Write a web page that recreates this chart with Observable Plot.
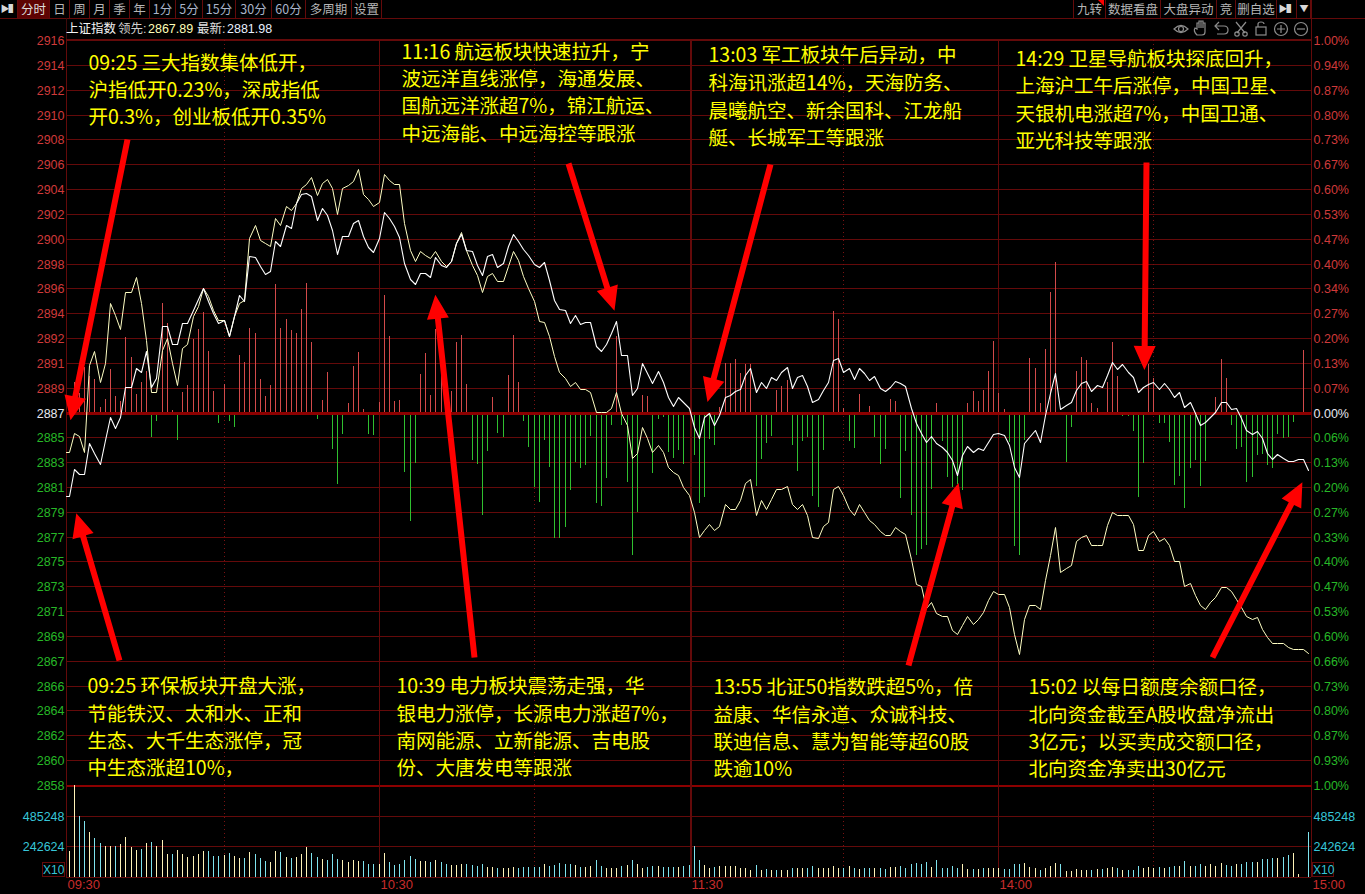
<!DOCTYPE html>
<html lang="zh-CN">
<head>
<meta charset="utf-8">
<title>上证指数 分时</title>
<script src="https://cdn.jsdelivr.net/npm/d3@7"></script>
<script src="https://cdn.jsdelivr.net/npm/@observablehq/plot@0.6"></script>
<style>
html,body{margin:0;padding:0;background:#000;}
#stage{position:relative;width:1365px;height:894px;overflow:hidden;background:#000;font-family:"Liberation Sans",Arial,sans-serif;}
#stage>svg,#stage>.layer{position:absolute;left:0;top:0;}
.btn{position:absolute;top:0;height:18px;text-align:center;color:#b5b5b5;font:12.5px/18px "Noto Sans CJK SC",sans-serif;box-sizing:border-box;border-right:1px solid #640a0a;white-space:nowrap;}
.btn.num{color:#a9b4c8;}
.btn.on{background:#5e0303;color:#ddd;}
.btn.ico{font-size:9px;color:#d8d8d8;letter-spacing:-1px;}
.hd{position:absolute;top:21px;font:12.5px/16px "Liberation Sans","Noto Sans CJK SC",sans-serif;white-space:nowrap;}
.ln{position:absolute;background:#640a0a;}
.x10{position:absolute;top:862px;height:15px;line-height:15px;border:1px solid #640a0a;box-sizing:border-box;color:#37c6d8;font-size:12px;text-align:center;}
</style>
</head>
<body>
<div id="stage"></div>
<script>
// ---- data ----
const indexLine = [2880.49,2882.64,2882.25,2882.18,2884.65,2883.81,2882.98,2884.85,2886.67,2885.76,2886.67,2888.96,2888.96,2890.45,2890.19,2891.82,2889.02,2889.67,2893.70,2893.75,2892.34,2892.34,2893.96,2893.96,2895.00,2895.83,2896.69,2895.65,2894.74,2893.96,2894.22,2892.99,2894.48,2896.17,2895.65,2899.21,2899.10,2898.43,2897.80,2897.99,2900.38,2899.94,2901.57,2901.37,2903.32,2904.02,2904.10,2903.84,2902.02,2902.93,2902.41,2901.24,2899.34,2900.72,2900.72,2901.76,2902.02,2900.72,2899.88,2899.49,2900.59,2902.61,2902.15,2901.50,2900.66,2898.64,2897.41,2897.00,2897.86,2897.86,2897.54,2899.10,2898.51,2898.32,2898.77,2900.20,2900.92,2899.68,2899.55,2898.51,2897.73,2899.16,2899.34,2898.30,2898.64,2899.94,2900.92,2900.38,2899.73,2899.29,2898.58,2898.32,2898.71,2897.34,2895.78,2895.05,2895.00,2893.96,2894.61,2893.90,2894.03,2894.03,2892.14,2891.75,2892.34,2893.18,2894.11,2891.49,2891.49,2888.37,2888.89,2890.84,2890.06,2889.28,2890.21,2889.41,2888.24,2887.53,2888.24,2887.85,2887.33,2885.89,2884.98,2886.67,2886.93,2886.02,2886.80,2888.18,2888.37,2888.70,2888.83,2889.93,2890.45,2888.63,2889.35,2888.89,2889.74,2889.54,2890.19,2890.58,2888.89,2889.80,2889.93,2889.09,2887.85,2888.03,2888.76,2889.41,2891.10,2891.28,2890.19,2890.45,2889.59,2890.45,2890.06,2889.54,2889.87,2888.89,2888.68,2889.02,2889.46,2889.28,2889.07,2887.33,2886.15,2885.37,2884.72,2885.19,2884.59,2884.28,2883.94,2883.29,2882.12,2883.68,2884.39,2883.89,2884.20,2884.07,2884.72,2885.32,2885.37,2885.24,2884.46,2882.77,2881.99,2884.59,2885.11,2885.63,2884.72,2886.80,2888.50,2890.06,2887.25,2887.59,2887.85,2888.76,2889.28,2889.46,2888.68,2889.15,2889.02,2889.93,2890.97,2890.37,2890.76,2890.19,2889.80,2888.57,2889.02,2889.22,2889.41,2888.83,2889.33,2888.81,2888.24,2888.63,2887.40,2887.85,2886.93,2886.02,2886.28,2886.67,2887.07,2887.85,2887.79,2887.25,2887.33,2886.54,2885.63,2885.30,2885.58,2885.04,2883.81,2883.35,2883.74,2883.48,2883.24,2883.24,2883.35,2883.35,2882.51];
const leadLine = [2883.89,2885.37,2885.17,2883.89,2890.71,2891.75,2889.41,2890.84,2895.52,2894.61,2893.49,2896.37,2896.37,2897.54,2895.52,2892.66,2888.63,2888.63,2891.88,2892.79,2890.84,2889.15,2892.01,2892.34,2894.48,2895.26,2896.69,2896.04,2895.00,2894.22,2894.22,2892.92,2894.48,2895.52,2895.78,2900.59,2901.57,2900.46,2900.20,2899.94,2902.15,2901.63,2903.06,2902.80,2903.32,2904.49,2904.82,2905.34,2903.97,2904.88,2905.14,2904.49,2902.46,2904.49,2904.75,2905.06,2905.92,2904.04,2903.63,2903.11,2903.39,2905.60,2905.08,2904.80,2904.80,2901.76,2899.68,2898.77,2899.55,2899.23,2899.03,2899.55,2898.77,2898.38,2898.77,2900.20,2901.03,2899.68,2898.51,2897.73,2896.37,2897.60,2897.86,2897.21,2897.21,2898.38,2899.60,2898.90,2897.60,2896.69,2895.65,2894.09,2894.03,2892.92,2891.36,2890.19,2889.67,2889.09,2889.41,2888.83,2888.81,2888.63,2887.07,2887.07,2887.07,2887.33,2888.57,2886.93,2886.02,2883.42,2883.81,2885.89,2884.98,2883.89,2884.46,2883.94,2882.72,2882.38,2882.12,2881.21,2880.56,2879.26,2877.31,2877.83,2878.35,2877.83,2878.15,2879.84,2879.52,2879.52,2880.17,2881.53,2881.86,2879.00,2880.17,2879.52,2880.30,2881.01,2881.03,2881.29,2879.91,2879.52,2879.84,2879.00,2877.31,2877.26,2878.15,2878.48,2881.03,2881.29,2880.56,2879.52,2879.00,2879.84,2879.26,2878.61,2878.35,2877.78,2877.50,2877.50,2878.09,2877.78,2877.52,2875.62,2873.67,2873.47,2871.78,2872.24,2871.39,2871.15,2871.13,2870.03,2869.72,2870.42,2871.13,2870.55,2870.89,2871.46,2872.37,2873.10,2872.89,2872.89,2871.85,2869.77,2868.21,2870.94,2872.04,2872.04,2871.72,2873.93,2875.88,2878.09,2874.58,2874.90,2875.16,2877.00,2877.31,2877.50,2876.66,2876.66,2876.66,2878.22,2879.26,2879.00,2879.00,2879.00,2878.35,2876.33,2876.33,2877.44,2877.78,2876.98,2877.26,2876.66,2875.44,2875.44,2873.47,2873.73,2872.76,2872.04,2871.72,2872.24,2872.63,2873.41,2873.41,2873.10,2872.50,2871.85,2871.13,2870.89,2871.07,2870.16,2869.51,2869.07,2869.07,2869.07,2868.73,2868.55,2868.55,2868.55,2868.29];
// buy/sell strength bars (no axis of their own in the picture; arbitrary units)
const strength = [0,90,57,135,109,99,17,40,129,49,34,225,165,55,90,125,-73,-25,327,267,7,-81,61,82,220,249,300,184,64,-31,85,-25,-43,171,151,252,237,100,49,82,385,252,279,247,238,310,387,211,-19,37,121,-109,-214,-64,27,139,180,9,-64,-67,32,352,229,34,37,-178,-325,-151,115,177,52,250,117,60,65,211,231,85,-143,-153,-308,-115,45,-61,-73,112,231,91,-25,-103,-223,-268,-83,-163,-376,-376,-343,-233,-148,-166,-158,-71,-271,-281,-196,-38,229,-38,-208,-426,-298,52,49,-181,-20,-13,-118,-136,-111,-155,0,-128,-271,-253,-80,-98,15,149,149,160,119,145,145,-220,-140,-91,-71,67,79,97,-98,-175,-85,-73,-250,-283,-113,-3,303,279,12,-85,-106,55,-8,19,-73,-155,-110,40,34,-256,-116,-308,-428,-408,-398,-228,27,-85,-193,-223,-213,-233,27,64,34,67,124,214,57,9,-88,-401,-428,-83,162,132,29,189,360,450,0,-148,-43,124,165,157,27,12,-8,90,210,109,-10,-10,-56,-253,-151,144,102,-31,-31,-88,-218,-190,-286,-166,-143,-220,-145,0,47,160,102,-38,-110,-103,-208,-193,-128,-125,-158,-166,-63,-76,-73,-28,-3,187,0];
// volume, thousands
const volumeK = [203,728,486,446,359,312,272,243,248,248,264,319,240,216,224,272,275,248,296,185,185,216,185,158,169,182,209,203,169,164,172,190,164,150,150,201,185,148,127,121,209,198,161,150,156,185,240,190,158,143,137,185,145,132,121,137,129,129,106,106,106,190,116,92,100,137,169,143,129,129,116,137,121,103,98,98,106,106,98,90,106,79,79,74,74,74,77,74,79,77,79,79,106,84,98,111,106,106,95,82,77,87,137,84,74,74,74,90,95,137,103,69,79,84,84,79,79,79,79,84,98,248,137,98,71,77,84,90,84,90,74,71,58,98,58,63,58,58,58,58,74,74,69,74,90,69,69,69,90,69,69,90,71,63,71,69,69,69,66,82,79,90,69,103,111,106,121,82,137,74,69,87,74,106,66,63,63,69,74,74,71,63,63,106,100,114,82,74,58,69,90,108,100,50,50,63,58,58,58,66,63,71,79,69,58,58,58,87,71,79,74,79,74,79,90,90,129,90,87,106,90,106,87,114,98,90,106,106,119,121,121,145,145,148,153,161,177,193,26,0,359];

const priceLabels = [2916,2914,2912,2910,2908,2906,2904,2902,2900,2898,2896,2894,2892,2891,2889,2887,2885,2883,2881,2879,2877,2875,2873,2871,2869,2867,2866,2864,2862,2860,2858];
const pctLabels = ["1.00%","0.94%","0.87%","0.80%","0.73%","0.67%","0.60%","0.53%","0.47%","0.40%","0.34%","0.27%","0.20%","0.13%","0.07%","0.00%","0.06%","0.13%","0.20%","0.27%","0.33%","0.40%","0.47%","0.53%","0.60%","0.66%","0.73%","0.80%","0.87%","0.93%","1.00%"];
const timeLabels = ["09:30","10:30","11:30","14:00","15:00"];
const timeMinutes = [0,60.5,120.7,180.4,241];
const halfHours = [30.5,90.5,150.5,210.5];
const volumeTicks = [242624,485248];

const notes = [
  {left:87.5, rows:[63,90,117], lines:["09:25 三大指数集体低开，","沪指低开0.23%，深成指低","开0.3%，创业板低开0.35%"]},
  {left:400.5,rows:[52,79,106,134], lines:["11:16 航运板块快速拉升，宁","波远洋直线涨停，海通发展、","国航远洋涨超7%，锦江航运、","中远海能、中远海控等跟涨"]},
  {left:707.5,rows:[55,83,111,138], lines:["13:03 军工板块午后异动，中","科海讯涨超14%，天海防务、","晨曦航空、新余国科、江龙船","艇、长城军工等跟涨"]},
  {left:1014.5,rows:[59,86,114,141], lines:["14:29 卫星导航板块探底回升，","上海沪工午后涨停，中国卫星、","天银机电涨超7%，中国卫通、","亚光科技等跟涨"]},
  {left:86.5, rows:[686,714,741,768], lines:["09:25 环保板块开盘大涨，","节能铁汉、太和水、正和","生态、大千生态涨停，冠","中生态涨超10%，"]},
  {left:395.5,rows:[686,714,741,768], lines:["10:39 电力板块震荡走强，华","银电力涨停，长源电力涨超7%，","南网能源、立新能源、吉电股","份、大唐发电等跟涨"]},
  {left:712.5,rows:[687,715,742,769], lines:["13:55 北证50指数跌超5%，倍","益康、华信永道、众诚科技、","联迪信息、慧为智能等超60股","跌逾10%"]},
  {left:1027.5,rows:[687,715,742,769], lines:["15:02 以每日额度余额口径，","北向资金截至A股收盘净流出","3亿元；以买卖成交额口径，","北向资金净卖出30亿元"]}
];
// arrows: tail and tip, in minutes / index points
const arrows = [
  {m1:11.8, p1:2908.26,m2:0.77, p2:2886.41},
  {m1:10.3, p1:2867.77,m2:1.94, p2:2879.24},
  {m1:78.98,p1:2867.93,m2:71.4, p2:2896.17},
  {m1:97.2, p1:2906.46,m2:106.1,p2:2895.0},
  {m1:136.3,p1:2906.31,m2:124.1,p2:2887.82},
  {m1:163,  p1:2867.38,m2:172.7,p2:2881.58},
  {m1:209,  p1:2906.54,m2:208.6,p2:2890.39},
  {m1:221.8,p1:2867.93,m2:239.2,p2:2881.58}
];

// ---- layout ----
const W = 1365, H = 894, L = 66, R = 54;
const priceTop = 40, priceBottom = 785, volBottom = 877;
const X = d3.scaleLinear([0,241],[L,W-R]);
const Y = d3.scaleLinear([2858,2916],[priceBottom,priceTop]);
const GRID = "#640a0a", MAIN = "#8c0000";
const STRENGTH_K = 0.026;   // strength unit in index points on the shared axis
const ZERO = 2887;

const priceTicks = priceLabels.map((_,k)=>2916-k*58/30);
const labelOf = new Map(priceTicks.map((t,k)=>[t,String(priceLabels[k])]));
const pctOf = new Map(priceTicks.map((t,k)=>[t,pctLabels[k]]));
const axisFont = {fontSize:12.5,tickSize:0,tickPadding:2,label:null,fontFamily:"Liberation Sans"};
const RED="#cf3a3a", CY="#37c6d8";

const rows = indexLine.map((v,i)=>({m:i+0.5,white:v,yellow:leadLine[i],s:strength[i],vol:volumeK[i]*1000,
  up: i===0 || v>=indexLine[i-1]}));
const lineRows = [{...rows[0],m:0},...rows];

function arrowMark(a){
  const x1=X(a.m1),y1=Y(a.p1),x2=X(a.m2),y2=Y(a.p2);
  const len=Math.hypot(x2-x1,y2-y1), rot=Math.atan2(x2-x1,-(y2-y1))*180/Math.PI;
  const shape={draw(c,l){const hl=24,hw=11,sw=3;
    c.moveTo(-sw,0);c.lineTo(sw,0);c.lineTo(sw,-(l-hl));c.lineTo(hw,-(l-hl));c.lineTo(0,-l);c.lineTo(-hw,-(l-hl));c.lineTo(-sw,-(l-hl));c.closePath();}};
  return Plot.vector([a],{x:"m1",y:"p1",length:len,rotate:rot,anchor:"start",shape,fill:"#ff0000",stroke:"none"});
}
const noteRows = notes.flatMap(n=>n.lines.map((t,i)=>({t,m:X.invert(n.left),p:Y.invert(n.rows[i])})));

const sideAxes = (anchor,fmt)=>[
  Plot.axisY(priceTicks.slice(0,15),{anchor,tickFormat:fmt,color:RED,...axisFont}),
  Plot.axisY(priceTicks.slice(15,16),{anchor,tickFormat:fmt,color:"#e8e8f0",...axisFont}),
  Plot.axisY(priceTicks.slice(16),{anchor,tickFormat:fmt,color:"#27b827",...axisFont})
];
const crisp = {shapeRendering:"crispEdges"};

const pricePlot = Plot.plot({
  width:W,height:H,marginLeft:L,marginRight:R,marginTop:priceTop,marginBottom:H-priceBottom,
  style:{background:"#000",fontFamily:"Liberation Sans"},
  x:{domain:[0,241],round:true,axis:null},
  y:{domain:[2858,2916],round:true,axis:null},
  marks:[
    Plot.ruleY(priceTicks.filter(t=>t!==2887&&t!==2858),{stroke:GRID,strokeWidth:1,...crisp}),
    Plot.ruleX(halfHours,{stroke:"#7a1212",strokeDasharray:"1,3",...crisp}),
    Plot.ruleX(timeMinutes,{stroke:GRID,strokeWidth:d=>d===120.7?2:1,...crisp}),
    ...sideAxes("left",d=>labelOf.get(d)),
    ...sideAxes("right",d=>pctOf.get(d)),
    Plot.ruleX(rows.filter(d=>d.s>0),{x:"m",y1:ZERO,y2:d=>ZERO+d.s*STRENGTH_K,stroke:"#d24a4a",strokeWidth:1,...crisp}),
    Plot.ruleX(rows.filter(d=>d.s<0),{x:"m",y1:ZERO,y2:d=>ZERO+d.s*STRENGTH_K,stroke:"#2fbf2f",strokeWidth:1,...crisp}),
    Plot.ruleY([ZERO],{stroke:MAIN,strokeWidth:3,...crisp}),
    Plot.ruleY([2858],{stroke:MAIN,strokeWidth:2,...crisp}),
    Plot.line(lineRows,{x:"m",y:"yellow",stroke:"#ffffc4",strokeWidth:1,curve:"linear"}),
    Plot.line(lineRows,{x:"m",y:"white",stroke:"#ffffff",strokeWidth:1.1,curve:"linear"}),
    Plot.text(noteRows,{x:"m",y:"p",text:"t",textAnchor:"start",lineAnchor:"middle",fill:"#ffff00",fontSize:19.5,fontFamily:"Noto Sans CJK SC"}),
    ...arrows.map(arrowMark)
  ]
});
const volumePlot = Plot.plot({
  width:W,height:H,marginLeft:L,marginRight:R,marginTop:priceBottom,marginBottom:H-volBottom,
  style:{background:"transparent",fontFamily:"Liberation Sans"},
  x:{domain:[0,241],round:true,axis:null},
  y:{domain:[0,727872],round:true,axis:null},
  marks:[
    Plot.ruleY(volumeTicks,{stroke:GRID,...crisp}),
    Plot.ruleY([0],{stroke:GRID,strokeWidth:1.5,...crisp}),
    Plot.ruleX(halfHours,{stroke:"#7a1212",strokeDasharray:"1,3",...crisp}),
    Plot.ruleX(timeMinutes,{stroke:GRID,strokeWidth:d=>d===120.7?2:1,...crisp}),
    Plot.axisY(volumeTicks,{anchor:"left",color:CY,tickFormat:d=>String(d),...axisFont}),
    Plot.axisY(volumeTicks,{anchor:"right",color:CY,tickFormat:d=>String(d),...axisFont}),
    Plot.axisX(timeMinutes,{anchor:"bottom",tickSize:0,tickPadding:2,label:null,color:"#c82c2c",fontSize:13,textAnchor:"start",dx:1,
      tickFormat:d=>timeLabels[timeMinutes.indexOf(d)],fontFamily:"Liberation Sans"}),
    Plot.ruleX(rows.filter(d=>d.vol>0&&d.up),{x:"m",y1:0,y2:"vol",stroke:"#fff3b8",strokeWidth:1,...crisp}),
    Plot.ruleX(rows.filter(d=>d.vol>0&&!d.up),{x:"m",y1:0,y2:"vol",stroke:"#7fe3ee",strokeWidth:1,...crisp})
  ]
});

// ---- toolbar chrome ----
const stage = document.getElementById("stage");
stage.append(pricePlot,volumePlot);
const leftEdges=[18,50,70,90,110,130,150,176,203,236,272,306,352,382];
const leftBtns=["分时","日","周","月","季","年","1分","5分","15分","30分","60分","多周期","设置"];
const rightEdges=[1074,1106,1161,1217,1236,1277,1297,1311];
const rightBtns=["九转","数据看盘","大盘异动","竞","删自选","▶▌","▼"];
function addBtn(text,a,b,cls){const d=document.createElement("div");d.className="btn "+(cls||"");d.style.left=a+"px";d.style.width=(b-a)+"px";d.textContent=text;stage.append(d);}
addBtn("▶▌",0,18,"ico");
leftBtns.forEach((t,i)=>addBtn(t,leftEdges[i],leftEdges[i+1],i===0?"on":(/\d/.test(t)?"num":"")));
rightBtns.forEach((t,i)=>addBtn(t,rightEdges[i],rightEdges[i+1],/[▶▼]/.test(t)?"ico":""));
function addLine(x,y,w,h,c){const d=document.createElement("div");d.className="ln";d.style.cssText=`left:${x}px;top:${y}px;width:${w}px;height:${h}px;`+(c?`background:${c};`:"");stage.append(d);}
addLine(0,18,1365,1);
addLine(1073,0,1,18);
addLine(66,18,1,22,"#3d0a0a");
addLine(1311,0,1,40);
addLine(66,39,1245,1);
function addHd(t,x,c){const d=document.createElement("div");d.className="hd";d.style.left=x+"px";d.style.color=c;d.textContent=t;stage.append(d);}
addHd("上证指数",66,"#f4f4f4");
addHd("领先:",118,"#cfcfcf");
addHd("2867.89",148,"#ffffb8");
addHd("最新:",197,"#e0e0e0");
addHd("2881.98",227,"#e8f0ff");
function addX10(x,w){const d=document.createElement("div");d.className="x10";d.style.left=x+"px";d.style.width=w+"px";d.textContent="X10";stage.append(d);}
addX10(42,23);addX10(1312,22);
// red corner flag on 九转 and the small tool icons
const icons=document.createElementNS("http://www.w3.org/2000/svg","svg");
icons.setAttribute("class","layer");icons.setAttribute("width",W);icons.setAttribute("height",40);
icons.innerHTML=`<path d="M1098 0h6v6z" fill="#f00"/>
<g fill="none" stroke="#8c8c8c" stroke-width="1.2">
<path d="M1174 29q7-7 14 0q-7 7-14 0z"/><circle cx="1181" cy="29" r="2.5"/>
<path d="M1197 35q-4-4-2-7l2 1v-6h2v5v-7h2v7v-7h2v7v-5h2v9q0 3-3 3h-3z"/>
<path d="M1215 26h9q4 0 4 4t-4 4h-7M1219 22l-4 4 4 4"/>
<path d="M1236 22l9 11M1246 22l-9 11"/><circle cx="1237" cy="34" r="2.2"/><circle cx="1245" cy="34" r="2.2"/>
<rect x="1256" y="27" width="10" height="8"/><path d="M1258 27v-3q0-2 3-2t3 2"/>
<circle cx="1281" cy="29" r="6.5"/><path d="M1277 29h8M1281 25v8"/>
<circle cx="1301" cy="29" r="6.5"/><path d="M1297 29h8"/></g>`;
stage.append(icons);
</script>
</body>
</html>
